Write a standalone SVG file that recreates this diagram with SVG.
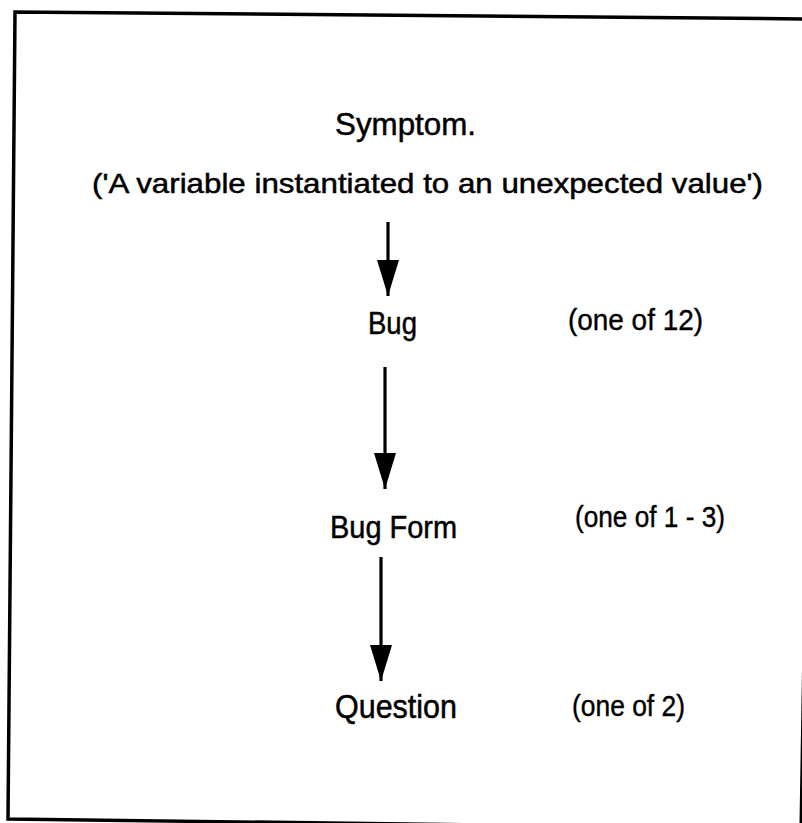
<svg xmlns="http://www.w3.org/2000/svg" width="802" height="823" viewBox="0 0 802 823">
  <style>
    .label { font-family: "Liberation Sans", Arial, sans-serif; fill: #000; stroke: #000; stroke-width: 0.5; }
    .note { font-family: "Liberation Sans", Arial, sans-serif; fill: #000; stroke: #000; stroke-width: 0.4; font-size: 30px; }
    .edge { stroke: #000; stroke-width: 3.2; fill: none; }
    .frame { fill: none; stroke: #000; stroke-width: 3.5; }
  </style>
  <defs>
    <marker id="head" markerUnits="userSpaceOnUse" markerWidth="36" markerHeight="24" refX="36" refY="12" orient="auto">
      <path d="M0,1 L36,12 L0,23 Z" fill="#000"/>
    </marker>
  </defs>
  <rect width="802" height="823" fill="#fff"/>
  <!-- page frame, slightly skewed on the sheet; right and bottom sides run off the page -->
  <g id="frame">
    <path class="frame" d="M880,19.6 L15,12 L8,819 L880,830"/>
    <path class="frame" d="M808.5,380 L801.2,826"/>
  </g>

  <g id="symptom">
    <text class="label" x="335" y="135" font-size="32" textLength="141" lengthAdjust="spacingAndGlyphs">Symptom.</text>
    <text class="label" x="92" y="193" font-size="28" textLength="671" lengthAdjust="spacingAndGlyphs">('A variable instantiated to an unexpected value')</text>
  </g>
  <g id="bug">
    <text class="label" x="368" y="334" font-size="32" textLength="49" lengthAdjust="spacingAndGlyphs">Bug</text>
    <text class="note" x="568" y="330" textLength="135" lengthAdjust="spacingAndGlyphs">(one of 12)</text>
  </g>
  <g id="bug-form">
    <text class="label" x="330" y="538" font-size="32" textLength="127" lengthAdjust="spacingAndGlyphs">Bug Form</text>
    <text class="note" x="575" y="527" textLength="150" lengthAdjust="spacingAndGlyphs">(one of 1 - 3)</text>
  </g>
  <g id="question">
    <text class="label" x="335" y="718" font-size="33" textLength="122" lengthAdjust="spacingAndGlyphs">Question</text>
    <text class="note" x="572" y="716" textLength="113" lengthAdjust="spacingAndGlyphs">(one of 2)</text>
  </g>

  <g id="connectors">
    <line class="edge" x1="388" y1="222" x2="388" y2="296" marker-end="url(#head)"/>
    <line class="edge" x1="385" y1="367" x2="385" y2="489" marker-end="url(#head)"/>
    <line class="edge" x1="381" y1="557" x2="381" y2="681" marker-end="url(#head)"/>
  </g>
</svg>
